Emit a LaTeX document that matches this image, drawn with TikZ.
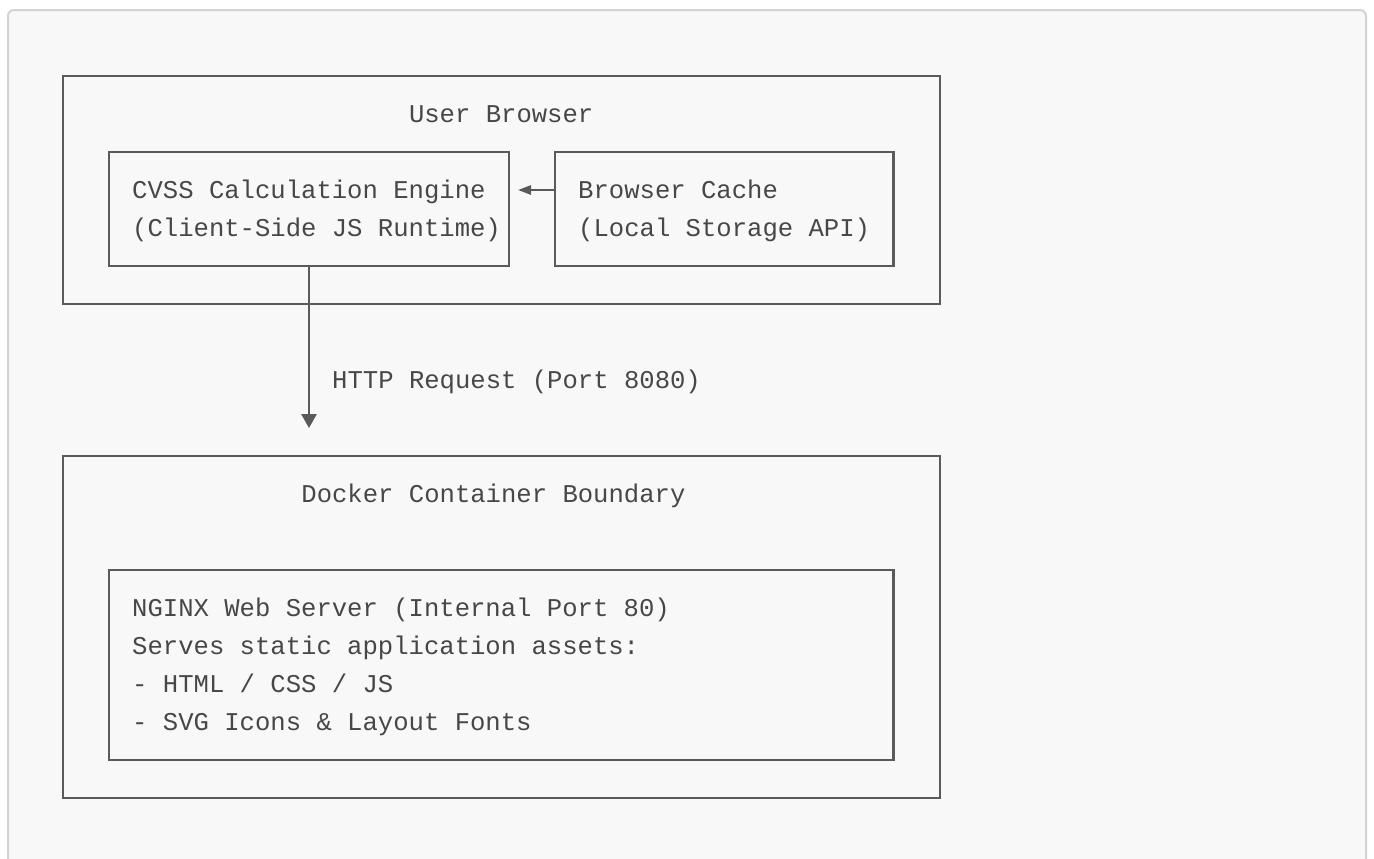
\documentclass[tikz,border=0pt]{standalone}
\usepackage{fontspec}
\setmonofont{Liberation Mono}
\usepackage{xcolor}
\usetikzlibrary{positioning, arrows.meta}
\definecolor{pagebg}{HTML}{F8F8F8}
\definecolor{framegray}{HTML}{D3D3D3}
\definecolor{linegray}{HTML}{5A5A5A}
\definecolor{textgray}{HTML}{474747}

\begin{document}
\begin{tikzpicture}[x=0.5pt, y=-0.5pt,
                box/.style={draw=linegray, line width=1.1pt, outer sep=0pt, inner sep=0pt},
                txt/.style={
                  font=\ttfamily\fontsize{12.8}{19}\selectfont, text=textgray,
                  inner sep=0pt, outer sep=0pt,
                  text height=13.5pt, text depth=5.5pt % one row of the grid
                },
                conn/.style={draw=linegray, line width=1.1pt},
                tipleft/.style={-{Triangle[length=6.5pt, width=4.6pt]}},
                tipdown/.style={-{Triangle[length=7pt, width=7.6pt]}}
                ]
                \useasboundingbox (0,0) rectangle (1374,858);
                \clip (0,0) rectangle (1374,858);
                \fill[white] (0,0) rectangle (1374,858);
                \draw[draw=framegray, fill=pagebg, line width=1pt, rounded corners=3pt] (8,10) rectangle (1366,900);

                % boxes
                \node[box, minimum width=438.5pt, minimum height=114pt] (browser) at (501.5,190) {};
                \node[box, minimum width=200pt, minimum height=57pt] (engine) at (309,209) {};
                \node[box, minimum width=169.2pt, minimum height=57pt] (cache) at (724.3,209) {};
                \node[box, minimum width=438.5pt, minimum height=171pt] (docker) at (501.5,627) {};
                \node[box, minimum width=392.2pt, minimum height=95pt] (nginx) at (501.3,665) {};

                % texts
                \node[txt, anchor=west] (browserlbl) at (409,114) {User Browser};
                \node[txt, anchor=west] (engine1) at (132.2,190) {CVSS Calculation Engine};
                \node[txt, below=0pt of engine1.south west, anchor=north west] (engine2) {(Client-Side JS Runtime)};
                \node[txt, anchor=west] (cache1) at (578.2,190) {Browser Cache};
                \node[txt, below=0pt of cache1.south west, anchor=north west] (cache2) {(Local Storage API)};
                \node[txt, anchor=west] (dockerlbl) at (301.4,494) {Docker Container Boundary};
                \node[txt, anchor=west] (nginx1) at (132.2,608) {NGINX Web Server (Internal Port 80)};
                \node[txt, below=0pt of nginx1.south west, anchor=north west] (nginx2) {Serves static application assets:};
                \node[txt, below=0pt of nginx2.south west, anchor=north west] (nginx3) {- HTML / CSS / JS};
                \node[txt, below=0pt of nginx3.south west, anchor=north west] (nginx4) {- SVG Icons \& Layout Fonts};
                \node[txt, anchor=west] (httplbl) at (332.2,380) {HTTP Request (Port 8080)};

                % connectors
                \coordinate (cachetip) at ([xshift=4.5pt]engine.east |- engine1.west);
                \coordinate (downtip) at ([yshift=14pt]docker.north -| engine.south);
                \draw[conn, tipleft] (cache.west |- engine1.west) -- (cachetip);
                \draw[conn, tipdown] (engine.south) -- (downtip);
\end{tikzpicture}
\end{document}
